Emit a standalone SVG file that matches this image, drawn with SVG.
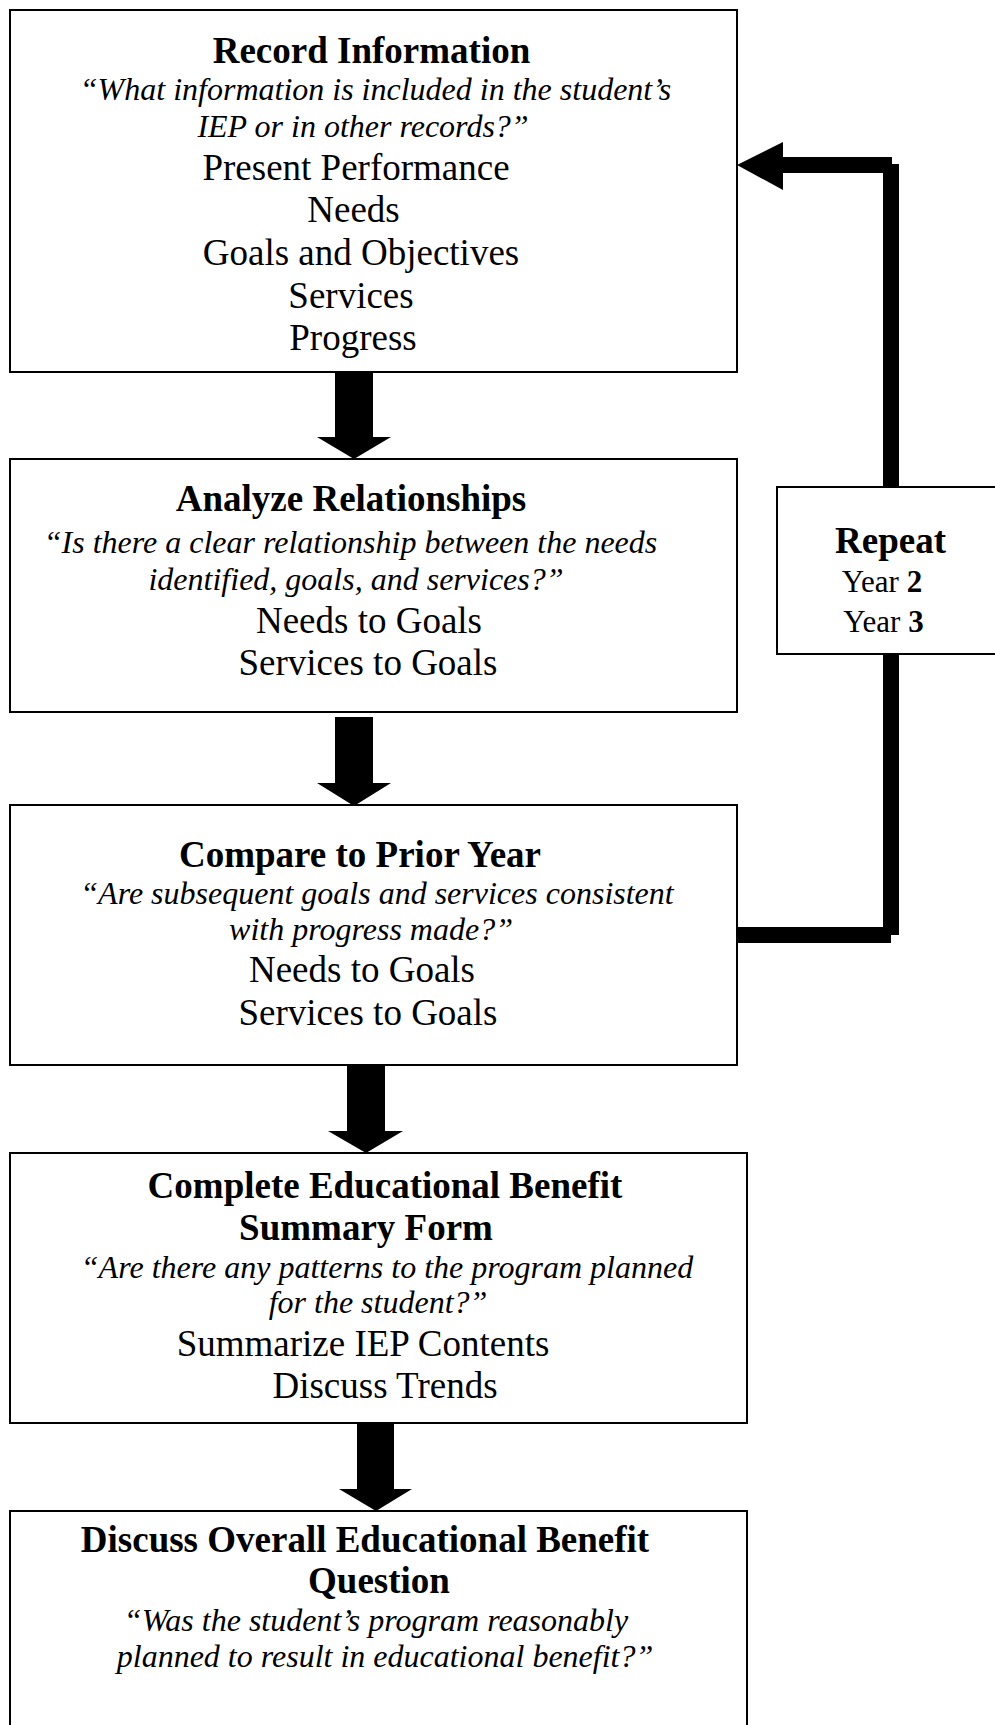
<svg xmlns="http://www.w3.org/2000/svg" width="995" height="1725" viewBox="0 0 995 1725">
  <style>
    .box { fill: #fff; stroke: #000; stroke-width: 2; }
    text { font-family: "Liberation Serif", "Times New Roman", serif; fill: #000; text-anchor: middle; }
    .title { font-size: 37px; font-weight: bold; }
    .quote { font-size: 32px; font-style: italic; }
    .item { font-size: 37px; }
    .year { font-size: 31px; }
    .b { font-weight: bold; }
    .flow { fill: #000; }
    .loop { stroke: #000; stroke-width: 16; stroke-linecap: butt; fill: none; }
  </style>
  <rect width="995" height="1725" fill="#fff"/>

  <!-- connectors -->
  <g id="connectors">
    <!-- block arrows between steps -->
    <polygon class="flow" points="335,371 373,371 373,437 391,437 354,459 317,437 335,437"/>
    <polygon class="flow" points="335,717 373,717 373,783 391,783 354,806 317,783 335,783"/>
    <polygon class="flow" points="347,1065 385,1065 385,1131 403,1131 366,1153 328,1131 347,1131"/>
    <polygon class="flow" points="357,1423 394,1423 394,1489 412,1489 376,1511 339,1489 357,1489"/>
    <!-- repeat loop: back from Compare to Prior Year up to Record Information -->
    <line class="loop" x1="737" y1="935" x2="891" y2="935"/>
    <line class="loop" x1="891" y1="935" x2="891" y2="164"/>
    <line class="loop" x1="783" y1="165" x2="892" y2="165"/>
    <polygon class="flow" points="737,165 783,142 783,190"/>
  </g>

  <g id="record-information">
    <rect class="box" x="10" y="10" width="727" height="362"/>
    <text class="title" x="371.5" y="63">Record Information</text>
    <text class="quote" x="375.5" y="100">“What information is included in the student’s</text>
    <text class="quote" x="363" y="137">IEP or in other records?”</text>
    <text class="item" x="356" y="180">Present Performance</text>
    <text class="item" x="353.5" y="222">Needs</text>
    <text class="item" x="361" y="265">Goals and Objectives</text>
    <text class="item" x="351" y="308">Services</text>
    <text class="item" x="353" y="350">Progress</text>
  </g>

  <g id="analyze-relationships">
    <rect class="box" x="10" y="459" width="727" height="253"/>
    <text class="title" x="351" y="511">Analyze Relationships</text>
    <text class="quote" x="350.5" y="553">“Is there a clear relationship between the needs</text>
    <text class="quote" x="356" y="590">identified, goals, and services?”</text>
    <text class="item" x="369" y="633">Needs to Goals</text>
    <text class="item" x="368" y="675">Services to Goals</text>
  </g>

  <g id="repeat">
    <rect class="box" x="777" y="487" width="230" height="167"/>
    <text class="title" x="890.5" y="553">Repeat</text>
    <text class="year" x="882" y="592">Year <tspan class="b">2</tspan></text>
    <text class="year" x="883.5" y="632">Year <tspan class="b">3</tspan></text>
  </g>

  <g id="compare-prior-year">
    <rect class="box" x="10" y="805" width="727" height="260"/>
    <text class="title" x="360" y="867">Compare to Prior Year</text>
    <text class="quote" x="377" y="904">“Are subsequent goals and services consistent</text>
    <text class="quote" x="371" y="940">with progress made?”</text>
    <text class="item" x="362" y="982">Needs to Goals</text>
    <text class="item" x="368" y="1025">Services to Goals</text>
  </g>

  <g id="summary-form">
    <rect class="box" x="10" y="1153" width="737" height="270"/>
    <text class="title" x="385" y="1198">Complete Educational Benefit</text>
    <text class="title" x="366" y="1240">Summary Form</text>
    <text class="quote" x="387" y="1278">“Are there any patterns to the program planned</text>
    <text class="quote" x="378" y="1313">for the student?”</text>
    <text class="item" x="363" y="1356">Summarize IEP Contents</text>
    <text class="item" x="385" y="1398">Discuss Trends</text>
  </g>

  <g id="overall-benefit">
    <rect class="box" x="10" y="1511" width="737" height="230"/>
    <text class="title" x="365" y="1552">Discuss Overall Educational Benefit</text>
    <text class="title" x="379" y="1593">Question</text>
    <text class="quote" x="376" y="1631">“Was the student’s program reasonably</text>
    <text class="quote" x="385" y="1667">planned to result in educational benefit?”</text>
  </g>
</svg>
